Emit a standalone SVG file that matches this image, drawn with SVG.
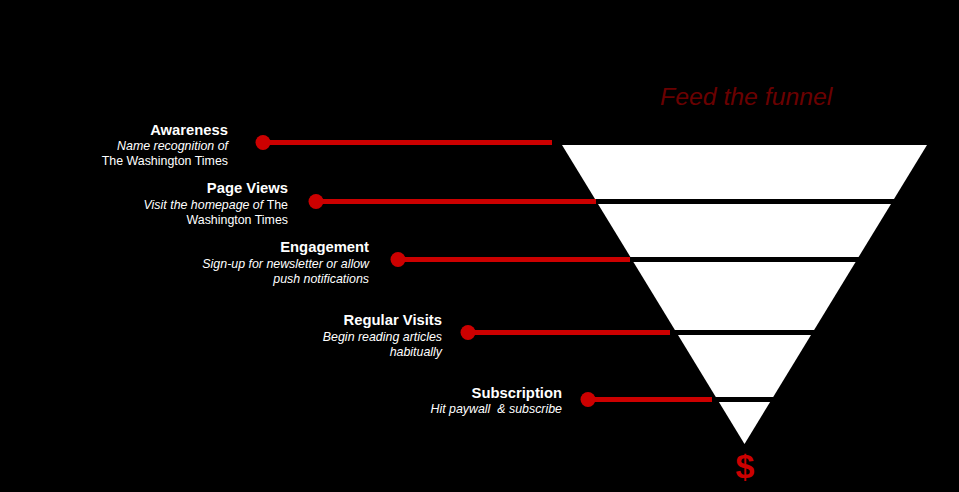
<svg xmlns="http://www.w3.org/2000/svg" width="959" height="492" viewBox="0 0 959 492">
<style>
.bg{fill:#000}
.layer{fill:#fff}
.title{font-family:"Liberation Sans",Arial,sans-serif;font-weight:bold;font-size:14.8px;fill:#fff;text-anchor:end}
.sub{font-family:"Liberation Sans",Arial,sans-serif;font-size:12.4px;fill:#fff;text-anchor:end}
.it{font-style:italic}
.conn{stroke:#cc0000;stroke-width:5;fill:none}
.dot{fill:#cc0000}
.feed{font-family:"Liberation Sans",Arial,sans-serif;font-style:italic;font-size:24.8px;fill:#6a0000}
.dollar{font-family:"Liberation Sans",Arial,sans-serif;font-weight:bold;font-size:34px;fill:#cc0000;text-anchor:middle}
</style>
<rect class="bg" x="0" y="0" width="959" height="492"/>
<g id="feed-title"><text class="feed" x="660" y="105">Feed the funnel</text></g>
<g id="funnel">
<g id="layer-awareness"><polygon class="layer" points="562,145 927,145 894,199 595,199"/></g>
<g id="layer-pageviews"><polygon class="layer" points="598,204 891,204 858.6,257 630.4,257"/></g>
<g id="layer-engagement"><polygon class="layer" points="633.4,262 855.6,262 814.1,330 674.9,330"/></g>
<g id="layer-regular"><polygon class="layer" points="678,335 811,335 773.2,397 715.8,397"/></g>
<g id="layer-subscription"><polygon class="layer" points="718.9,402 770.1,402 744.5,444"/></g>
</g>
<g id="connectors">
<line class="conn" x1="263" y1="142.5" x2="552" y2="142.5"/>
<circle class="dot" cx="263" cy="142.5" r="7.5"/>
<line class="conn" x1="316" y1="201.5" x2="596" y2="201.5"/>
<circle class="dot" cx="316" cy="201.5" r="7.5"/>
<line class="conn" x1="398" y1="259.5" x2="630" y2="259.5"/>
<circle class="dot" cx="398" cy="259.5" r="7.5"/>
<line class="conn" x1="468" y1="332.5" x2="670" y2="332.5"/>
<circle class="dot" cx="468" cy="332.5" r="7.5"/>
<line class="conn" x1="588" y1="399.5" x2="712" y2="399.5"/>
<circle class="dot" cx="588" cy="399.5" r="7.5"/>
</g>
<g id="label-awareness">
<text class="title" x="228" y="135">Awareness</text>
<text class="sub it" x="228" y="150">Name recognition of</text>
<text class="sub" x="228" y="165">The Washington Times</text>
</g>
<g id="label-pageviews">
<text class="title" x="288" y="193">Page Views</text>
<text class="sub" x="288" y="209"><tspan class="it">Visit the homepage of </tspan>The</text>
<text class="sub" x="288" y="224">Washington Times</text>
</g>
<g id="label-engagement">
<text class="title" x="369" y="252">Engagement</text>
<text class="sub it" x="369" y="268">Sign-up for newsletter or allow</text>
<text class="sub it" x="369" y="283">push notifications</text>
</g>
<g id="label-regular">
<text class="title" x="442" y="325">Regular Visits</text>
<text class="sub it" x="442" y="341">Begin reading articles</text>
<text class="sub it" x="442" y="356">habitually</text>
</g>
<g id="label-subscription">
<text class="title" x="562" y="398">Subscription</text>
<text class="sub it" x="562" y="413">Hit paywall&#160; &amp; subscribe</text>
</g>
<g id="dollar"><text class="dollar" x="745" y="478">$</text></g>
</svg>
